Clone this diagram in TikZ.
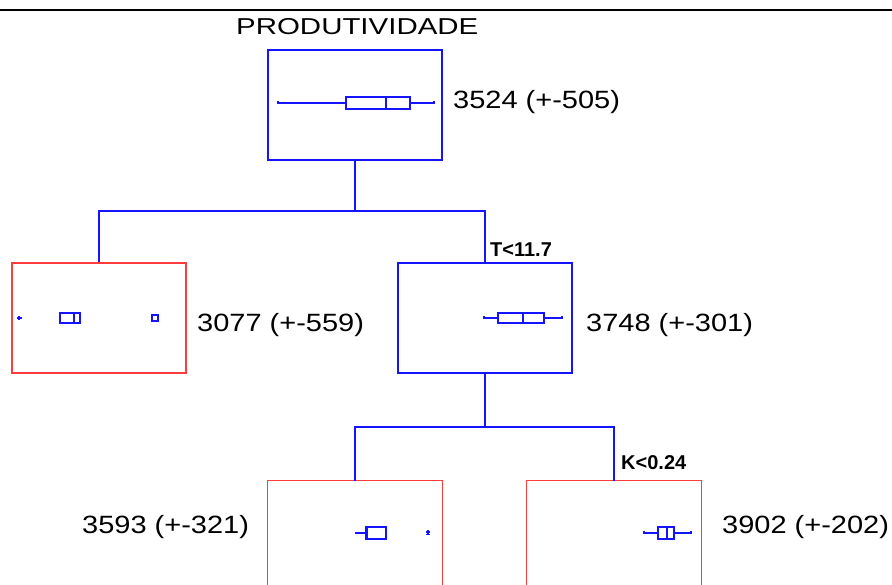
\documentclass[tikz,border=0pt]{standalone}
\usepackage{fontspec}
\setmainfont{Liberation Sans}
\usepackage{graphicx}
\definecolor{myblue}{RGB}{20,20,255}
\definecolor{myred}{RGB}{255,60,60}
\tikzset{
  nodebox/.style={draw=myblue, line width=1.2pt, minimum width=174pt, minimum height=110pt, inner sep=0pt},
  leafbox/.style={draw=myred, line width=1.2pt, minimum width=174pt, minimum height=110pt, inner sep=0pt},
  openbox/.style={minimum width=174pt, minimum height=130pt, inner sep=0pt},
  conn/.style={color=myblue, line width=1.2pt},
  bp/.style={color=myblue, line width=1.2pt},
  val/.style={anchor=base west, inner sep=0pt, font=\fontsize{25}{28}\selectfont},
  cond/.style={anchor=base west, inner sep=0pt, font=\fontsize{20}{24}\selectfont\bfseries},
}
\newcommand{\wide}[1]{\scalebox{1.16}[1]{#1}}
\begin{document}
\begin{tikzpicture}[x=1pt,y=-1pt]
\clip (0,0) rectangle (892,584);
\fill[white] (0,0) rectangle (892,584);
% top rule
\coordinate (tl) at (0,10);
\coordinate (tr) at (892,10);
\draw[line width=2pt] (tl) -- (tr);
\node[anchor=base west, inner sep=0pt, font=\fontsize{23}{26}\selectfont] (title) at (236,34) {\scalebox{1.28}[1]{PRODUTIVIDADE}};

% boxes
\node[nodebox] (root) at (355,105) {};
\node[leafbox] (left) at (99,318) {};
\node[nodebox] (right) at (485,318) {};
\node[openbox] (bleft) at (355,546) {};
\node[openbox] (bright) at (614,546) {};
\draw[myred, line width=1.2pt] (bleft.south west) -- (bleft.north west) -- (bleft.north east) -- (bleft.south east);
\draw[myred, line width=1.2pt] (bright.south west) -- (bright.north west) -- (bright.north east) -- (bright.south east);

% connectors
\coordinate (s1) at (355,211);
\coordinate (s2) at (485,427);
\draw[conn] (root.south) -- (s1);
\draw[conn] (left.north) |- (s1) -| (right.north);
\draw[conn] (right.south) -- (s2);
\draw[conn] (bleft.north) |- (s2) -| (bright.north);

% labels
\node[val] (lroot) at (453,108) {\wide{3524 (+-505)}};
\node[val] (lleft) at (197,331) {\wide{3077 (+-559)}};
\node[val] (lright) at (586,331) {\wide{3748 (+-301)}};
\node[val] (lbleft) at (82,533) {\wide{3593 (+-321)}};
\node[val] (lbright) at (722,533) {\wide{3902 (+-202)}};
\node[cond] (c1) at (490,256) {T<11.7};
\node[cond] (c2) at (621,469) {K<0.24};

% boxplot root
\draw[bp] (278,101) -- (278,103) -- (346,103);
\draw[bp] (410,103) -- (434,103) -- (434,101);
\draw[bp] (346,97) rectangle (410,109);
\draw[bp] (386,97) -- (386,109);
% boxplot left
\draw[bp] (17,318) -- (22,318) (19,316) -- (19,320);
\draw[bp] (60,313) rectangle (80,323);
\draw[bp] (74,313) -- (74,323);
\draw[bp] (152,315) rectangle (158,321);
% boxplot right
\draw[bp] (484,316) -- (484,318) -- (498,318);
\draw[bp] (544,318) -- (562,318) -- (562,316);
\draw[bp] (498,313) rectangle (544,323);
\draw[bp] (523,313) -- (523,323);
% boxplot bottom left
\draw[bp] (356,534) -- (356,533) -- (366,533);
\draw[bp] (366,527) rectangle (386,539);
\draw[bp] (367.5,527) -- (367.5,539);
\draw[bp] (426,532) -- (430,532) (428,529.5) -- (428,534.5) (426,534.5) -- (430,534.5);
% boxplot bottom right
\draw[bp] (644,531) -- (644,533) -- (658,533);
\draw[bp] (674,533) -- (691,533) -- (691,531);
\draw[bp] (658,527) rectangle (674,539);
\draw[bp] (667,527) -- (667,539);
\end{tikzpicture}
\end{document}
